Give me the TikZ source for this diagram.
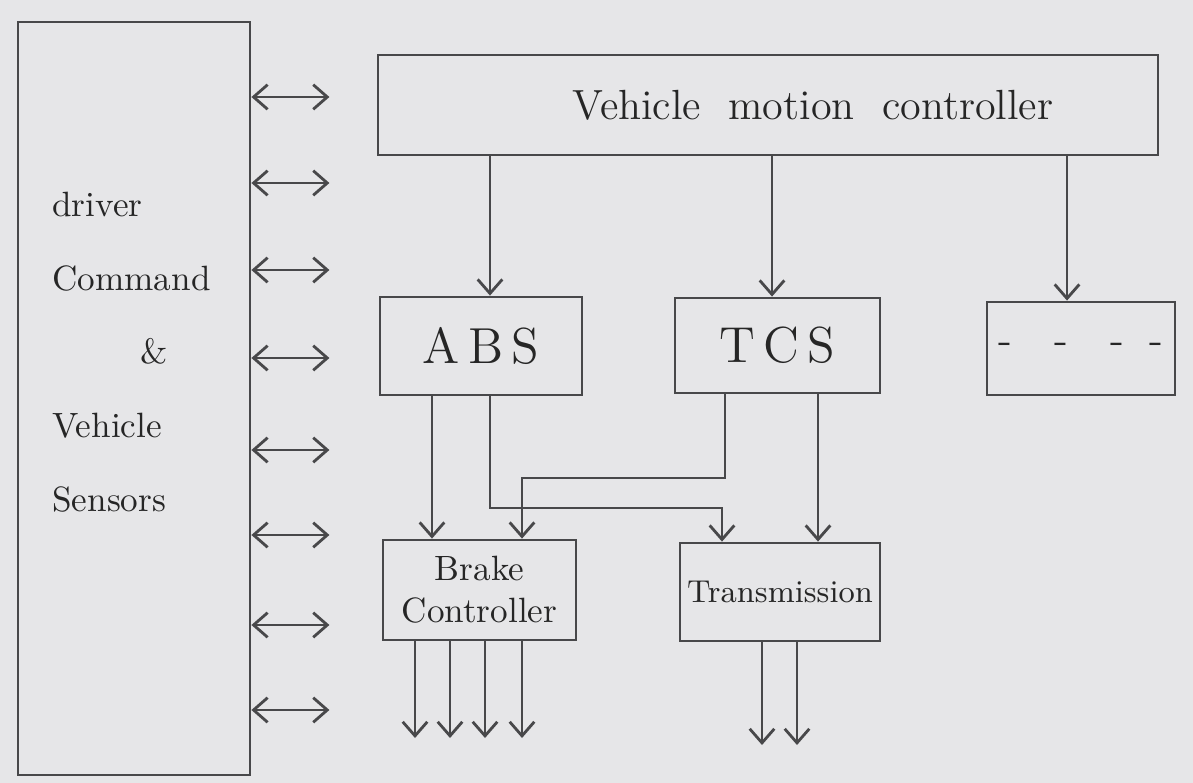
\documentclass[tikz,border=0pt]{standalone}
\usetikzlibrary{arrows.meta}
\definecolor{carta}{RGB}{230,230,232}
\definecolor{matita}{RGB}{72,72,74}
\begin{document}
\begin{tikzpicture}[x=1cm, y=-1cm, >={Straight Barb[length=4pt,width=7pt]},
        blocco/.style={draw=matita, thick, rectangle, inner sep=0pt, text=black!85},
        freccia/.style={->, thick, draw=matita}]
        % Sfondo (foglio) e area del disegno
        \fill[carta] (0,0) rectangle (11.93,7.83);
        \useasboundingbox (0,0) rectangle (11.93,7.83);

        % Blocco del conducente e dei sensori
        \node[blocco, minimum width=2.32cm, minimum height=7.53cm] (drv) at (1.34,3.985) {};
        \node[align=left, anchor=west, font=\normalsize, text=black!85] (drvtxt) at (0.40,3.52)
            {driver\\[9pt] Command\\[9pt] \hspace{2.5em}\&\\[9pt] Vehicle\\[9pt] Sensors};

        % Frecce doppie verso il resto del sistema
        \foreach \yy [count=\k] in {0.97,1.83,2.70,3.58,4.50,5.35,6.25,7.10}
            \draw[freccia, <->] (drv.east |- 0,\yy) -- ++(0.78,0) coordinate (bus\k);

        % Controllore del moto del veicolo
        \node[blocco, minimum width=7.8cm, minimum height=1.0cm, font=\large] (vmc) at (7.68,1.05)
            {\hspace{0.9cm}Vehicle\ \ motion\ \ controller};

        % Sottosistemi
        \node[blocco, minimum width=2.02cm, minimum height=0.98cm, font=\Large] (abs) at (4.81,3.46) {A\,B\,S};
        \node[blocco, minimum width=2.05cm, minimum height=0.95cm, font=\Large] (tcs) at (7.775,3.455) {T\,C\,S};
        \node[blocco, minimum width=1.88cm, minimum height=0.93cm, font=\large] (altro) at (10.81,3.485) {-\quad -\quad -\; -};

        % Attuatori
        \node[blocco, minimum width=1.93cm, minimum height=1.0cm, align=center] (brake) at (4.795,5.90) {Brake\\ Controller};
        \node[blocco, minimum width=2.0cm, minimum height=0.98cm, font=\small] (trans) at (7.80,5.92) {Transmission};

        % Dal controllore ai sottosistemi
        \draw[freccia] (vmc.south -| 4.90,0) -- (abs.north -| 4.90,0);
        \draw[freccia] (vmc.south -| 7.72,0) -- (tcs.north -| 7.72,0);
        \draw[freccia] (vmc.south -| 10.67,0) -- (altro.north -| 10.67,0);

        % Dai sottosistemi agli attuatori
        \draw[freccia] (abs.south -| 4.32,0) -- (brake.north -| 4.32,0);
        \draw[freccia] (abs.south -| 4.90,0) -- (4.90,5.08) -- (7.22,5.08) -- (trans.north -| 7.22,0);
        \draw[freccia] (tcs.south -| 7.25,0) -- (7.25,4.78) -- (5.22,4.78) -- (brake.north -| 5.22,0);
        \draw[freccia] (tcs.south -| 8.18,0) -- (trans.north -| 8.18,0);

        % Uscite degli attuatori
        \foreach \xx in {4.15,4.50,4.85,5.22}
            \draw[freccia] (brake.south -| \xx,0) -- (\xx,7.38);
        \foreach \xx in {7.62,7.97}
            \draw[freccia] (trans.south -| \xx,0) -- (\xx,7.45);
\end{tikzpicture}
\end{document}
